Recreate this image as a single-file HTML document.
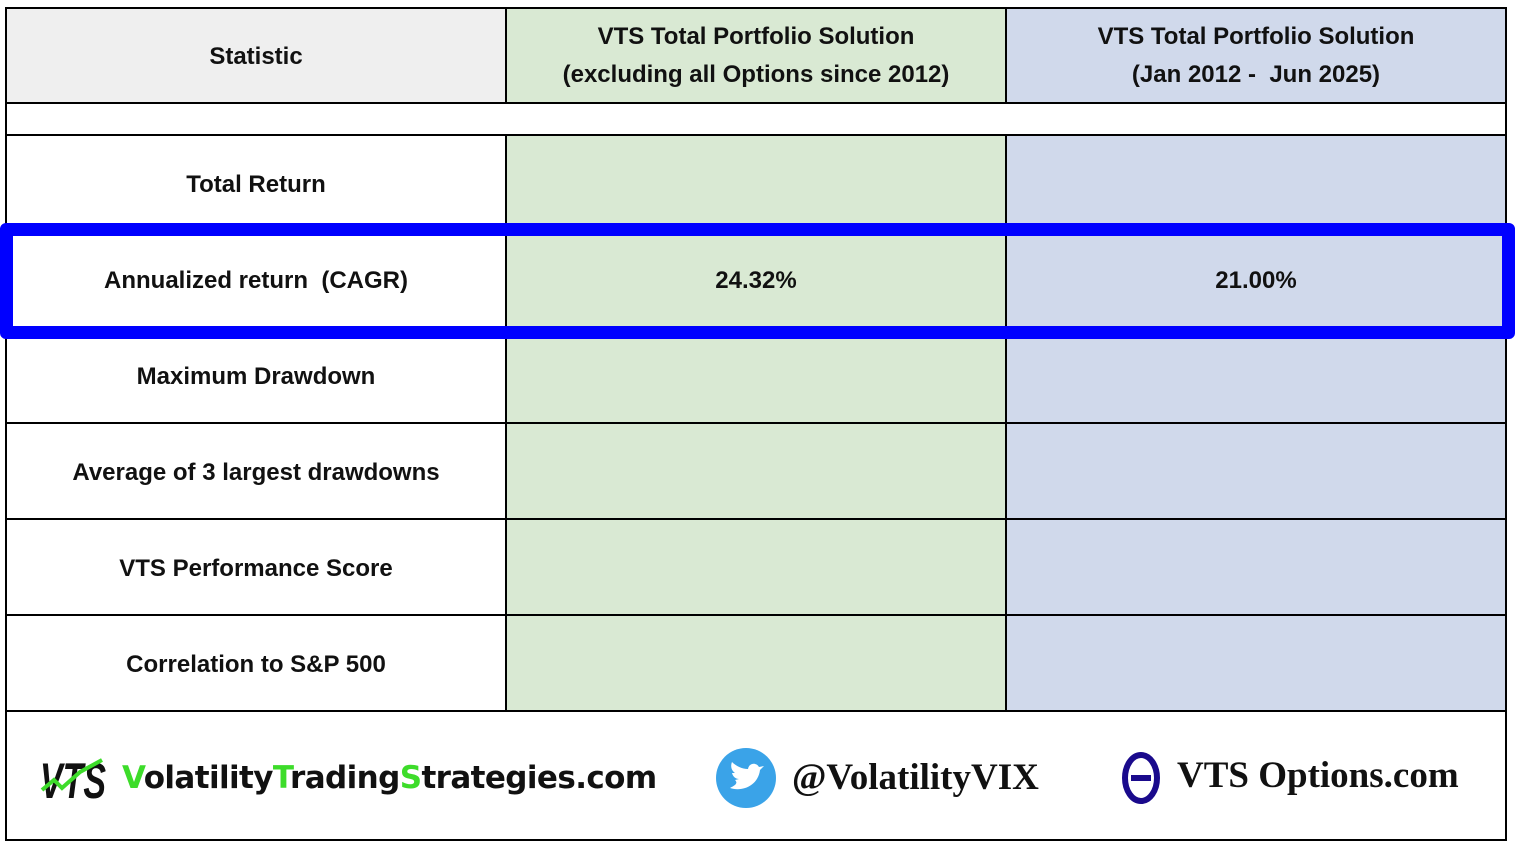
<!DOCTYPE html>
<html><head><meta charset="utf-8"><style>
body{margin:0;width:1515px;height:852px;background:#fff;position:relative;overflow:hidden;font-family:"Liberation Sans",sans-serif;}
.c{position:absolute;box-sizing:border-box;display:flex;align-items:center;justify-content:center;text-align:center;font-weight:bold;font-size:24px;color:#111;line-height:38px;padding-top:3px;}
.h{position:absolute;background:#000;}
.g{background:#d9e9d3}.b{background:#d0d9eb}.gr{background:#efefef}
</style></head><body>
<div class="c gr" style="left:6px;top:8px;width:500px;height:95px">Statistic</div>
<div class="c g" style="left:506px;top:7px;width:500px;height:95px">VTS Total Portfolio Solution<br>(excluding all Options since 2012)</div>
<div class="c b" style="left:1006px;top:7px;width:500px;height:95px">VTS Total Portfolio Solution<br>(Jan 2012 -&nbsp; Jun 2025)</div>

<div id="rows"></div>

<div class="h" style="left:5px;top:7px;width:1502px;height:2px"></div>
<div class="h" style="left:5px;top:102px;width:1502px;height:2px"></div>
<div class="h" style="left:5px;top:134px;width:1502px;height:2px"></div>
<div class="h" style="left:5px;top:230px;width:1502px;height:2px"></div>
<div class="h" style="left:5px;top:326px;width:1502px;height:2px"></div>
<div class="h" style="left:5px;top:422px;width:1502px;height:2px"></div>
<div class="h" style="left:5px;top:518px;width:1502px;height:2px"></div>
<div class="h" style="left:5px;top:614px;width:1502px;height:2px"></div>
<div class="h" style="left:5px;top:710px;width:1502px;height:2px"></div>
<div class="h" style="left:5px;top:839px;width:1502px;height:2px"></div>
<div class="h" style="left:5px;top:7px;width:2px;height:834px"></div>
<div class="h" style="left:1505px;top:7px;width:2px;height:834px"></div>
<div class="h" style="left:505px;top:7px;width:2px;height:96px"></div>
<div class="h" style="left:1005px;top:7px;width:2px;height:96px"></div>
<div class="h" style="left:505px;top:134px;width:2px;height:578px"></div>
<div class="h" style="left:1005px;top:134px;width:2px;height:578px"></div>

<div style="position:absolute;left:0;top:223px;width:1515px;height:116px;box-sizing:border-box;border:13px solid #0000ff;border-radius:6px"></div>

<div style="position:absolute;left:40px;top:754px;width:68px;height:46px">
<svg width="68" height="46"><text x="0" y="44" font-family="Liberation Sans Narrow, Liberation Sans" font-weight="bold" font-style="italic" font-size="50" fill="#111" textLength="66" lengthAdjust="spacingAndGlyphs">VTS</text><polyline points="2,36 14,26 22,34 40,18 62,6" stroke="#3ddc2a" stroke-width="4" fill="none"/></svg></div>
<div style="position:absolute;left:122px;top:760px;font-family:'DejaVu Sans',sans-serif;font-weight:bold;font-size:31px;color:#111;letter-spacing:-0.6px"><span style="color:#3ddc2a">V</span>olatility<span style="color:#3ddc2a">T</span>rading<span style="color:#3ddc2a">S</span>trategies.com</div>
<div style="position:absolute;left:716px;top:748px;width:60px;height:60px;border-radius:50%;background:#3aa3e8">
<svg width="60" height="60"><path d="M14 40 C26 44 42 38 44 22 L48 18 L43 19 C40 14 33 15 32 21 C26 21 20 18 16 14 C14 19 16 23 19 25 L16 25 C17 29 20 31 23 31 L19 32 C22 35 20 37 14 40Z" fill="#fff"/></svg></div>
<div style="position:absolute;left:792px;top:756px;font-family:'Liberation Serif',serif;font-weight:bold;font-size:37px;color:#111">@VolatilityVIX</div>
<div style="position:absolute;left:1119px;top:752px;width:44px;height:52px"><svg width="44" height="52"><ellipse cx="22" cy="26" rx="16" ry="23" fill="none" stroke="#1a0a8c" stroke-width="6"/><rect x="12" y="23" width="20" height="6" fill="#1a0a8c"/></svg></div>
<div style="position:absolute;left:1177px;top:754px;font-family:'Liberation Serif',serif;font-weight:bold;font-size:37px;color:#111">VTS Options.com</div>

<script>
const labels=["Total Return","Annualized return  (CAGR)","Maximum Drawdown","Average of 3 largest drawdowns","VTS Performance Score","Correlation to S&P 500"];
const colA=["","24.32%","","","",""];
const colB=["","21.00%","","","",""];
const rows=document.getElementById('rows');
labels.forEach((l,i)=>{
  const top=135+i*96;
  const mk=(cls,x,t)=>{const d=document.createElement('div');d.className='c '+cls;d.style.left=x+'px';d.style.top=top+'px';d.style.width='500px';d.style.height='96px';d.textContent=t;d.style.whiteSpace='pre';rows.appendChild(d);return d;};
  const a=mk('',6,l);
  
  
  const b=mk('g',506,colA[i]);
  
  
  const c=mk('b',1006,colB[i]);
  
  
});
</script>
</body></html>
